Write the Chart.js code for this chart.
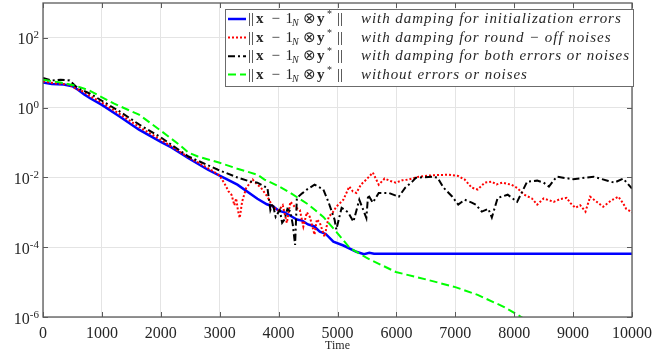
<!DOCTYPE html>
<html><head><meta charset="utf-8">
<script src="https://cdn.jsdelivr.net/npm/chart.js@4"></script>
<style>html,body{margin:0;padding:0;background:#fff}#wrap{width:659px;height:358px;position:relative}</style>
</head><body><div id="wrap"><canvas id="c" width="659" height="358"></canvas></div>
<script>
// ---- data ----
const xTicks = [0,1000,2000,3000,4000,5000,6000,7000,8000,9000,10000];
const yTicks = [1e-6,1e-4,1e-2,1,1e2];
const yTickExp = ['-6','-4','-2','0','2'];
const xTitle = 'Time';
const seriesNames = [
  'with damping for initialization errors',
  'with damping for round \u2212 off noises',
  'with damping for both errors or noises',
  'without errors or noises'
];

const blueT = [0,150,350,500,600,700,800,1000,1300,1630,2000,2180,2470,2800,3100,3300,3640,3800,3900,4000,4100,4200,4310,4400,4500,4600,4700,4800,4930,5100,5320,5450,5540,5620,6000,7000,8000,9000,10000];
const blueV = [5.25,4.8,4.6,4.1,3.2,2.4,1.86,1.2,0.56,0.234,0.105,0.0724,0.0355,0.0166,0.0093,0.0062,0.00245,0.0017,0.0015,0.00112,0.001,0.0008,0.00062,0.00058,0.00045,0.0004,0.00028,0.00024,0.000145,0.000112,0.000074,0.000063,0.000069,0.000065,0.000065,0.000065,0.000065,0.000065,0.000065];

const redT = [0,200,450,550,700,800,1000,1300,1630,2000,2470,2850,3000,3090,3150,3200,3250,3280,3310,3340,3380,3450,3560,3640,3700,3810,3900,4000,4070,4140,4200,4280,4360,4420,4480,4530,4610,4650,4700,4780,4850,4920,4980,5100,5200,5260,5320,5400,5490,5600,5700,5800,5900,5990,6100,6200,6380,6600,6880,7050,7160,7280,7380,7500,7620,7700,7800,7950,8050,8170,8300,8390,8500,8600,8670,8780,8890,8960,9040,9120,9210,9290,9400,9510,9650,9770,9850,9900,10000];
const redV = [5.62,5.01,4.57,3.55,2.82,2.14,1.41,0.661,0.282,0.120,0.038,0.0166,0.0112,0.0063,0.004,0.0032,0.0016,0.0025,0.00112,0.00069,0.002,0.005,0.0087,0.0062,0.0051,0.0028,0.00145,0.00112,0.0016,0.0005,0.002,0.0014,0.00117,0.00039,0.001,0.00074,0.00023,0.00063,0.0005,0.0002,0.00074,0.001,0.00145,0.0023,0.0055,0.004,0.0036,0.0063,0.0087,0.0138,0.0062,0.0093,0.0079,0.0071,0.0083,0.0087,0.0105,0.0115,0.012,0.011,0.0087,0.0051,0.0045,0.0071,0.0076,0.0063,0.0071,0.0062,0.005,0.0032,0.0025,0.00166,0.0025,0.0022,0.002,0.0024,0.0026,0.0018,0.00135,0.0016,0.00105,0.0028,0.002,0.00145,0.0022,0.0028,0.0018,0.00126,0.001];

const blackT = [0,150,300,450,550,650,800,1000,1340,1630,2000,2470,2970,3300,3520,3640,3760,3810,3860,3900,3950,4020,4060,4100,4150,4200,4240,4280,4310,4400,4480,4610,4760,4850,4950,4980,5070,5180,5270,5370,5490,5520,5600,5700,5870,6040,6150,6270,6330,6610,6700,6800,6950,7050,7160,7280,7350,7450,7560,7620,7720,7890,8050,8220,8390,8500,8590,8720,9000,9200,9350,9600,9700,9850,10000];
const blackV = [7.08,6.03,6.31,6.03,4.17,3.31,2.51,1.58,0.708,0.331,0.141,0.0398,0.0166,0.01,0.0076,0.0071,0.0055,0.0051,0.00117,0.0018,0.00074,0.00117,0.0005,0.00062,0.00126,0.00105,0.00045,0.000117,0.0026,0.0035,0.0045,0.0062,0.0045,0.0019,0.00062,0.00032,0.00135,0.001,0.00054,0.0023,0.00069,0.0032,0.0019,0.0036,0.0036,0.0028,0.0051,0.0076,0.0098,0.0105,0.0098,0.0051,0.0028,0.00166,0.0023,0.0019,0.00166,0.00105,0.00126,0.00071,0.0026,0.0032,0.002,0.0076,0.0081,0.0071,0.0055,0.0105,0.0089,0.0098,0.0105,0.0079,0.0071,0.0093,0.0048];

const greenT = [0,300,570,790,1200,1630,2000,2350,2470,2630,3000,3300,3640,3760,4000,4200,4500,4760,4980,5210,5490,5990,6540,7000,7380,7840,8120,8300];
const greenV = [6.31,5.25,4.17,3.09,1.32,0.631,0.219,0.0776,0.0513,0.0398,0.0263,0.0178,0.012,0.0087,0.0056,0.0036,0.0017,0.00074,0.000275,0.000095,0.00005,0.0000195,0.0000115,0.0000072,0.0000043,0.0000019,0.000001,0.00000063];

const pts = (T, V) => T.map((t, i) => ({x: t, y: V[i]}));
const SERIF = '"Liberation Serif", "Times New Roman", serif';
const AXIS_COLOR = '#5a5a5a';
const TEXT_COLOR = '#262626';

const framePlugin = {
  id: 'frame',
  afterDatasetsDraw(chart) {
    const {ctx, chartArea: a, scales} = chart;
    ctx.save();
    ctx.strokeStyle = AXIS_COLOR;
    ctx.lineWidth = 1.3;
    ctx.strokeRect(a.left, a.top, a.right - a.left, a.bottom - a.top);
    ctx.lineWidth = 1;
    ctx.beginPath();
    xTicks.forEach(v => {
      const x = Math.round(scales.x.getPixelForValue(v)) + 0.5;
      ctx.moveTo(x, a.bottom); ctx.lineTo(x, a.bottom - 5);
      ctx.moveTo(x, a.top); ctx.lineTo(x, a.top + 5);
    });
    yTicks.forEach(v => {
      const y = Math.round(scales.y.getPixelForValue(v)) + 0.5;
      ctx.moveTo(a.left, y); ctx.lineTo(a.left + 5, y);
      ctx.moveTo(a.right, y); ctx.lineTo(a.right - 5, y);
    });
    ctx.stroke();
    ctx.restore();
  },
  afterDraw(chart) {
    const {ctx, scales} = chart;
    ctx.save();
    ctx.fillStyle = TEXT_COLOR;
    ctx.textBaseline = 'alphabetic';
    yTicks.forEach((v, i) => {
      const y = scales.y.getPixelForValue(v);
      ctx.font = '16px ' + SERIF;
      const wb = ctx.measureText('10').width;
      ctx.font = '11px ' + SERIF;
      const we = ctx.measureText(yTickExp[i]).width;
      const x0 = 39 - wb - we;
      ctx.font = '16px ' + SERIF;
      ctx.fillText('10', x0, y + 6.5);
      ctx.font = '11px ' + SERIF;
      ctx.fillText(yTickExp[i], x0 + wb, y + 0.5);
    });
    ctx.restore();
  }
};

const legendPlugin = {
  id: 'mathLegend',
  afterDraw(chart) {
    const ctx = chart.ctx;
    ctx.save();
    const bx = 225.5, by = 9.5, bw = 408, bh = 77;
    ctx.fillStyle = '#fff';
    ctx.fillRect(bx, by, bw, bh);
    ctx.strokeStyle = '#6b6b6b';
    ctx.lineWidth = 1;
    ctx.strokeRect(bx, by, bw, bh);
    const rows = [19, 37.6, 56.3, 74.5];
    ctx.font = 'italic 15px ' + SERIF;
    ctx.letterSpacing = '0px';
    const w2 = ctx.measureText(seriesNames[2]).width;
    const ls = Math.max(0, (269 - w2) / seriesNames[2].length);
    chart.data.datasets.forEach((ds, i) => {
      const y = rows[i];
      ctx.save();
      ctx.beginPath();
      ctx.setLineDash(ds.borderDash || []);
      ctx.lineWidth = ds.borderWidth;
      ctx.strokeStyle = ds.borderColor;
      ctx.moveTo(228, y); ctx.lineTo(246, y);
      ctx.stroke();
      ctx.restore();
      const bl = y + 4;
      ctx.fillStyle = TEXT_COLOR;
      ctx.letterSpacing = '0px';
      ctx.font = '15px ' + SERIF;
      ctx.fillText('||', 248, bl);
      ctx.font = 'bold 15px ' + SERIF;
      ctx.fillText('x', 256, bl);
      ctx.font = '15px ' + SERIF;
      ctx.fillText('\u2212', 271.5, bl);
      ctx.fillText('1', 285.5, bl);
      ctx.font = 'italic 10px ' + SERIF;
      ctx.fillText('N', 292, bl + 3);
      ctx.font = '15px ' + SERIF;
      ctx.fillText('\u2297', 303, bl);
      ctx.font = 'bold 15px ' + SERIF;
      ctx.fillText('y', 317, bl);
      ctx.font = '10px ' + SERIF;
      ctx.fillText('*', 327, bl - 6);
      ctx.font = '15px ' + SERIF;
      ctx.fillText('||', 337, bl);
      ctx.font = 'italic 15px ' + SERIF;
      ctx.letterSpacing = ls + 'px';
      ctx.fillText(seriesNames[i], 361, bl);
    });
    ctx.restore();
  }
};

new Chart(document.getElementById('c'), {
  type: 'line',
  data: {
    datasets: [
      {label: seriesNames[0], data: pts(blueT, blueV), borderColor: '#0000ff', borderWidth: 2.5, order: 4},
      {label: seriesNames[1], data: pts(redT, redV), borderColor: '#ff0000', borderWidth: 2, borderDash: [2, 2], order: 3},
      {label: seriesNames[2], data: pts(blackT, blackV), borderColor: '#000000', borderWidth: 2, borderDash: [7, 3, 2, 3], order: 2},
      {label: seriesNames[3], data: pts(greenT, greenV), borderColor: '#00ff00', borderWidth: 2, borderDash: [8, 4], order: 1}
    ]
  },
  options: {
    responsive: false,
    animation: false,
    devicePixelRatio: 1,
    layout: {padding: {top: 3, right: 20, left: 0, bottom: 0}},
    elements: {point: {radius: 0}, line: {tension: 0, fill: false}},
    plugins: {legend: {display: false}, tooltip: {enabled: false}},
    scales: {
      x: {
        type: 'linear', min: 0, max: 10000,
        afterBuildTicks: s => { s.ticks = xTicks.map(v => ({value: v})); },
        grid: {color: '#e4e4e4', lineWidth: 1, drawTicks: false},
        border: {display: false},
        ticks: {font: {family: SERIF, size: 16}, color: TEXT_COLOR, padding: 7, maxRotation: 0, autoSkip: false,
                callback: v => String(v)},
        title: {display: true, text: xTitle, font: {family: SERIF, size: 12}, color: TEXT_COLOR, padding: {top: 0, bottom: 5}},
        afterFit: s => { s.height = 41; }
      },
      y: {
        type: 'logarithmic', min: 1e-6, max: 1e3,
        afterBuildTicks: s => { s.ticks = yTicks.map(v => ({value: v})); },
        grid: {color: '#e4e4e4', lineWidth: 1, drawTicks: false},
        border: {display: false},
        ticks: {display: false},
        afterFit: s => { s.width = 43; }
      }
    }
  },
  plugins: [framePlugin, legendPlugin]
});
</script>
</body></html>
